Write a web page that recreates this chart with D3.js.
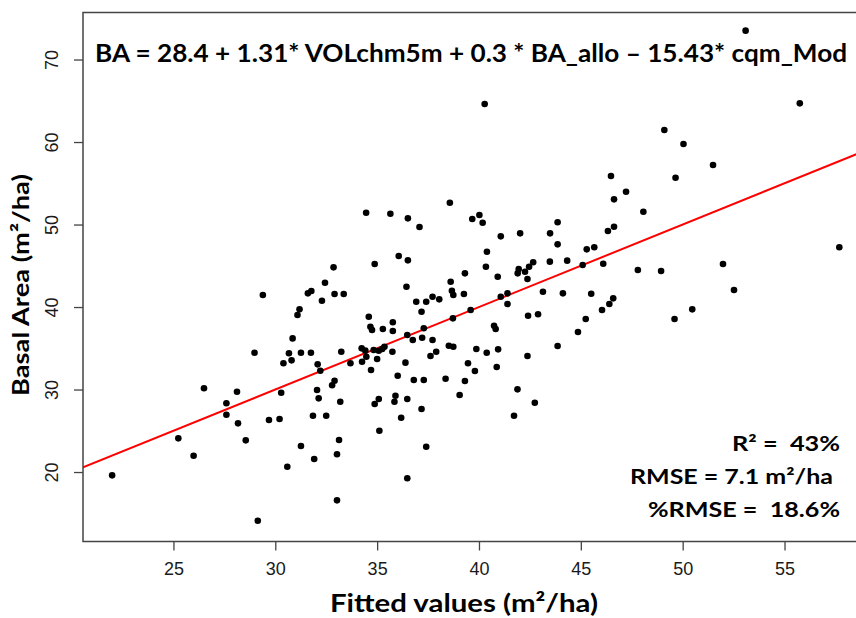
<!DOCTYPE html>
<html>
<head>
<meta charset="utf-8">
<script src="https://cdn.jsdelivr.net/npm/d3@7"></script>
<style>
  body { margin: 0; background: #fff; }
  svg { display: block; }
  text.pre { white-space: pre; }
</style>
</head>
<body>
<svg></svg>
<script>
const fitted = [
  21.99, 25.24, 25.99, 26.5, 27.6, 27.6, 28.12, 28.17, 28.55, 28.98, 29.14, 29.69, 30.21, 30.29, 30.4, 30.67,
  30.8, 30.85, 31.09, 31.19, 31.26, 31.26, 30.59,
  29.39, 31.6, 31.77, 32.44, 32.91, 33.36, 32.29, 36.44, 38.61, 38.67, 38.74, 39.26, 36.92, 37.41, 37.72, 38.05,
  37.18, 39.59, 34.59, 34.67, 34.75, 35.28, 35.77, 35.77, 36.48, 37.29, 38.72, 31.75, 32.08, 32.21, 33.24, 33.69,
  34.24, 34.42, 34.26, 34.47, 34.7, 34.83, 35.08, 35.25, 35.36, 35.0, 35.75, 36.75, 37.21, 37.72, 36.39, 36.01,
  36.8, 37.29, 37.62, 37.9, 38.52, 38.74, 38.36, 39.46, 39.87, 39.8, 39.31, 39.05, 36.48, 35.9, 35.85, 35.08,
  34.88, 37.18, 36.18, 35.11, 37.41, 36.48, 33.19, 32.91, 32.79, 32.05, 32.13, 31.85, 32.5, 33.13, 33.03, 31.91,
  34.46, 35.65, 36.51, 37.08, 38.57, 34.88, 36.06, 36.51, 32.86, 39.31,
  40.28, 49.1, 49.65, 46.48, 47.22, 46.63, 48.07, 39.67, 40.02, 40.18, 41.07, 42.02, 43.49, 43.86, 43.86, 40.39,
  40.34, 40.92, 42.38, 41.95, 41.9, 42.26, 42.46, 42.66, 43.48, 44.33, 45.29, 45.66, 46.33, 46.63, 45.09, 46.1,
  47.8, 48.94, 43.14, 44.12, 45.51, 46.59, 41.07, 41.4,
  41.4, 46.4, 46.04, 45.24, 44.86, 43.86, 49.6, 42.41, 42.9, 40.74, 40.82, 40.38, 40.94, 40.87, 42.38, 41.89,
  42.74, 41.72, 33.03,
  53.09, 55.75, 50.04, 51.49, 51.98, 52.52, 57.69, 50.47
];
const observed = [
  19.6, 24.08, 21.98, 30.15, 28.33, 26.95, 29.74, 25.9, 23.84, 34.46, 14.1, 26.3, 26.42, 29.61, 33.18, 34.39,
  33.54, 36.2, 39.03, 39.72, 34.46, 23.15, 20.64,
  41.45, 41.66, 41.94, 42.95, 41.58, 41.58, 40.76, 42.46, 43.07, 41.98, 41.45, 41.58, 40.64, 40.64, 41.25, 40.93,
  39.43, 39.64, 38.82, 37.61, 37.21, 37.33, 38.15, 37.09, 36.61, 37.42, 38.63, 34.46, 33.05, 32.28, 34.58, 33.18,
  34.99, 34.71, 33.37, 33.98, 32.36, 34.79, 34.7, 34.91, 35.19, 33.7, 34.58, 36.0, 36.28, 36.0, 33.26, 31.67,
  31.15, 31.15, 34.06, 34.58, 35.31, 35.19, 31.31, 33.18, 34.91, 32.24, 31.03, 29.33, 28.85, 29.25, 28.52, 28.85,
  28.24, 27.64, 26.58, 25.0, 23.07, 19.24, 28.52, 31.07, 30.51, 29.94, 28.93, 26.82, 26.82, 23.88, 22.15, 21.58,
  51.43, 51.31, 50.75, 49.7, 52.64, 45.21, 46.18, 45.66, 44.81, 44.08,
  64.61, 61.45, 55.67, 55.88, 53.98, 53.05, 51.55, 50.67, 51.15, 50.22, 48.57, 48.93, 48.93, 50.27, 47.6, 46.7,
  44.88, 43.67, 43.39, 44.61, 44.08, 44.28, 44.88, 45.42, 45.5, 45.62, 46.99, 47.24, 49.21, 49.73, 45.09, 45.25,
  44.48, 44.36, 41.85, 41.66, 41.61, 41.05, 41.25, 41.66,
  40.36, 40.36, 39.64, 38.55, 36.97, 35.27, 38.55, 38.95, 39.12, 37.73, 37.33, 34.46, 34.87, 32.73, 34.06, 30.02,
  28.4, 26.82, 16.57,
  73.5, 64.69, 59.76, 57.21, 45.21, 42.06, 47.24, 39.72
];
const xTicks = [25, 30, 35, 40, 45, 50, 55];
const yTicks = [20, 30, 40, 50, 60, 70];
const fitLine = { intercept: 0, slope: 1 };
const equation = "BA = 28.4 + 1.31* VOLchm5m + 0.3 * BA_allo \u2013 15.43* cqm_Mod";
const stats = ["R\u00b2 =  43%", "RMSE = 7.1 m\u00b2/ha", "%RMSE =  18.6%"];

const width = 856;
const height = 618;
const box = { left: 83, right: 866, top: 12.5, bottom: 541.5 };
const bold = "Lato, 'Open Sans', sans-serif";
const plain = "'Liberation Sans', Arial, sans-serif";

const x = d3.scaleLinear().domain([20.56, 59.0]).range([box.left, box.right]);
const y = d3.scaleLinear().domain([11.58, 75.7]).range([box.bottom, box.top]);

const svg = d3.select("svg")
  .attr("width", width)
  .attr("height", height);

svg.append("defs").append("clipPath").attr("id", "plot")
  .append("rect")
  .attr("x", box.left).attr("y", box.top)
  .attr("width", box.right - box.left).attr("height", box.bottom - box.top);

// regression line (observed vs fitted)
const x0 = x.domain()[0], x1 = x.domain()[1];
svg.append("line")
  .attr("clip-path", "url(#plot)")
  .attr("x1", x(x0)).attr("y1", y(fitLine.intercept + fitLine.slope * x0))
  .attr("x2", x(x1)).attr("y2", y(fitLine.intercept + fitLine.slope * x1))
  .attr("stroke", "#ff0000")
  .attr("stroke-width", 2);

svg.append("g")
  .selectAll("circle")
  .data(fitted.map((f, i) => ({ f, o: observed[i] })))
  .join("circle")
  .attr("cx", d => x(d.f))
  .attr("cy", d => y(d.o))
  .attr("r", 3.3)
  .attr("fill", "#000");

// frame
svg.append("rect")
  .attr("x", box.left).attr("y", box.top)
  .attr("width", box.right - box.left).attr("height", box.bottom - box.top)
  .attr("fill", "none")
  .attr("stroke", "#444")
  .attr("stroke-width", 1.5);

// axes
const xAxis = svg.append("g")
  .attr("transform", `translate(0,${box.bottom})`)
  .call(d3.axisBottom(x).tickValues(xTicks).tickSize(9).tickPadding(12));
const yAxis = svg.append("g")
  .attr("transform", `translate(${box.left},0)`)
  .call(d3.axisLeft(y).tickValues(yTicks).tickSize(9).tickPadding(6));

[xAxis, yAxis].forEach(a => {
  a.select(".domain").remove();
  a.selectAll(".tick line").attr("stroke", "#444").attr("stroke-width", 1.3);
  a.selectAll("text").attr("font-family", plain).attr("font-size", 18).attr("fill", "#1a1a1a");
});
yAxis.selectAll(".tick text")
  .attr("transform", "rotate(-90)")
  .attr("text-anchor", "middle")
  .attr("x", 0)
  .attr("y", -25)
  .attr("dy", 0);

// axis titles
svg.append("text")
  .attr("x", 330).attr("y", 612)
  .attr("font-family", bold).attr("font-weight", 700).attr("font-size", 24)
  .attr("textLength", 268).attr("lengthAdjust", "spacingAndGlyphs")
  .text("Fitted values (m\u00b2/ha)");

svg.append("text")
  .attr("transform", "translate(29,396) rotate(-90)")
  .attr("font-family", bold).attr("font-weight", 700).attr("font-size", 23)
  .attr("textLength", 222).attr("lengthAdjust", "spacingAndGlyphs")
  .text("Basal Area (m\u00b2/ha)");

// equation
svg.append("text")
  .attr("x", 95).attr("y", 62)
  .attr("font-family", bold).attr("font-weight", 700).attr("font-size", 25)
  .attr("textLength", 752).attr("lengthAdjust", "spacingAndGlyphs")
  .text(equation);

// fit statistics
const statX = [732, 630, 648];
const statW = [108, 203, 192];
const statY = [450.5, 484, 517];
svg.append("g")
  .selectAll("text")
  .data(stats)
  .join("text")
  .attr("class", "pre")
  .attr("x", (d, i) => statX[i])
  .attr("y", (d, i) => statY[i])
  .attr("textLength", (d, i) => statW[i])
  .attr("lengthAdjust", "spacingAndGlyphs")
  .attr("font-family", bold).attr("font-weight", 700).attr("font-size", 21)
  .text(d => d);
</script>
</body>
</html>
